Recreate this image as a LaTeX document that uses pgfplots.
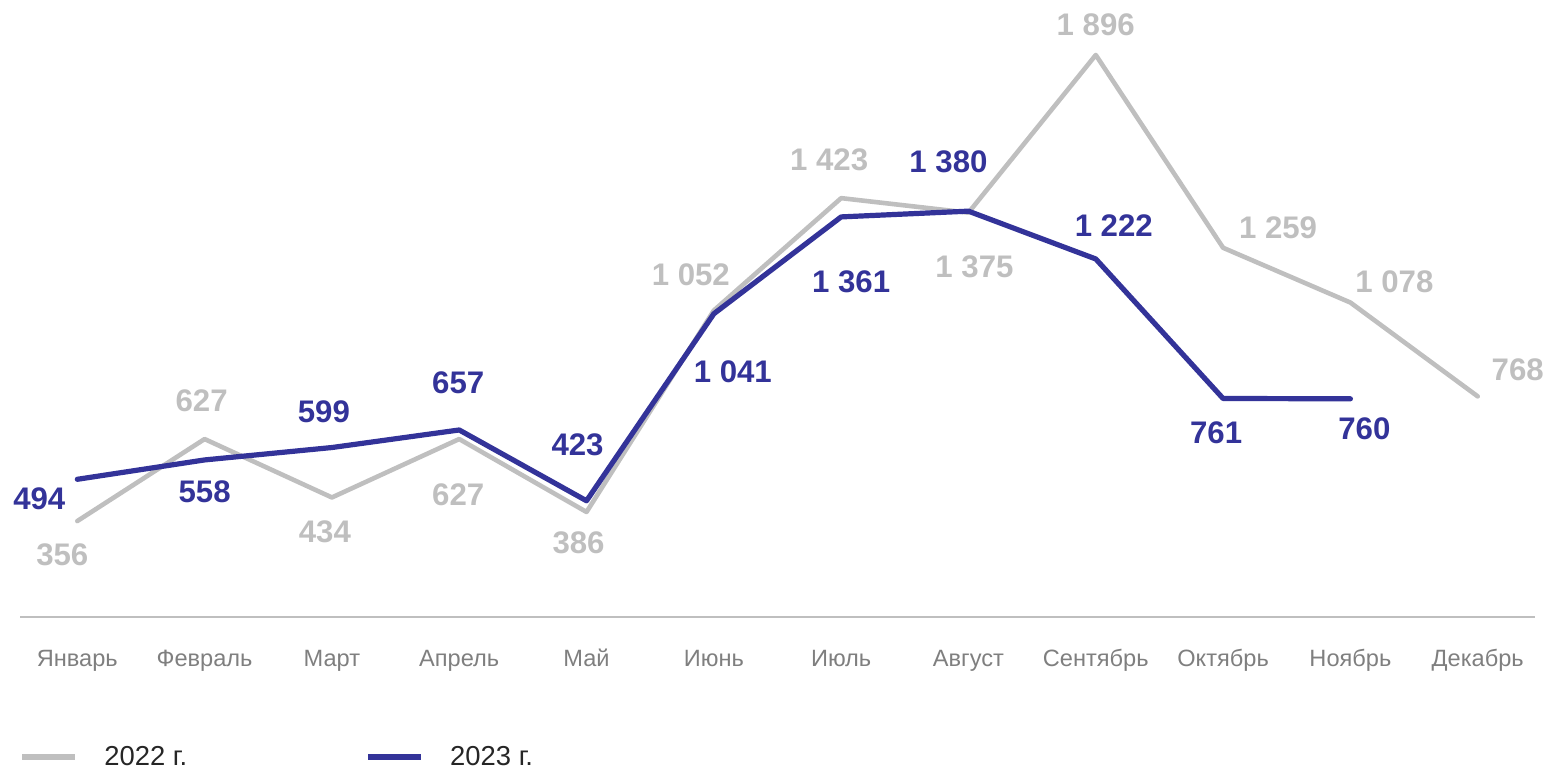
\documentclass[border=0pt]{standalone}
\usepackage{fontspec}
\setmainfont{Liberation Sans}
\usepackage{pgfplots}
\pgfplotsset{compat=1.18}
\usepackage{pgfplotstable}
\definecolor{cgray}{HTML}{BFBFBF}
\definecolor{cblue}{HTML}{333399}
\definecolor{ctick}{HTML}{7F7F7F}
\definecolor{clegend}{HTML}{262626}

\pgfplotstableread{
x y dx dy
0 356 -7.5 -17
1 627 -1.5 19
2 434 -3.5 -17
3 627 -0.5 -28
4 386 -4 -15.5
5 1052 -11.5 18
6 1423 -6 19
7 1375 3 -27
8 1896 0 15
9 1259 27.5 10
10 1078 22 10.5
11 768 20 13.5
}\tgray
\pgfplotstableread{
x y dx dy
0 494 -19 -9.5
1 558 0 -16
2 599 -4 18
3 657 -0.5 23.5
4 423 -4.5 28
5 1041 9.5 -29
6 1361 5 -32.5
7 1380 -10 24.5
8 1222 9 16.5
9 761 -3.5 -17
10 760 7 -15
}\tblue

\begin{document}
\begin{tikzpicture}
\useasboundingbox (0,0) rectangle (774pt,384pt);
\begin{axis}[
  at={(10pt,75.5pt)}, anchor=south west,
  scale only axis, width=757.5pt, height=296.75pt,
  xmin=-0.45, xmax=11.45, ymin=39, ymax=2000,
  clip=false,
  axis y line=none, axis x line=bottom,
  axis line style={-, draw=cgray, line width=1pt},
  xtick={0,...,11},
  xticklabels={Январь,Февраль,Март,Апрель,Май,Июнь,Июль,Август,Сентябрь,Октябрь,Ноябрь,Декабрь},
  major tick length=0pt,
  xticklabel style={anchor=base, yshift=-24.5pt, font=\fontsize{11.8}{14}\selectfont, text=ctick},
  legend columns=2,
  legend cell align=left,
  legend image code/.code={\draw[#1, line width=3pt, line cap=butt] (0pt,0pt) -- (26.5pt,0pt);},
  legend style={at={(axis description cs:0,-0.236)}, anchor=west, xshift=-3.5pt, draw=none, fill=none,
    font=\fontsize{13.7}{16}\selectfont, text=clegend,
    /tikz/every odd column/.append style={column sep=11pt},
    /tikz/every even column/.append style={column sep=87pt}},
  nodes near coords={\pgfmathprintnumber[fixed,precision=0,1000 sep={\ },assume math mode=true]{\pgfplotspointmeta}},
]
\addplot[cgray, line width=2.3pt, line join=round, line cap=round, mark=none,
  visualization depends on={\thisrow{dx}\as\dx},
  visualization depends on={\thisrow{dy}\as\dy},
  every node near coord/.append style={anchor=center, xshift=\dx, yshift=\dy, text=cgray, font=\bfseries\fontsize{15.6}{18}\selectfont}
] table[x=x,y=y]{\tgray};
\addlegendentry{2022 г.}
\addplot[cblue, line width=2.6pt, line join=round, line cap=round, mark=none,
  visualization depends on={\thisrow{dx}\as\dx},
  visualization depends on={\thisrow{dy}\as\dy},
  every node near coord/.append style={anchor=center, xshift=\dx, yshift=\dy, text=cblue, font=\bfseries\fontsize{15.6}{18}\selectfont}
] table[x=x,y=y]{\tblue};
\addlegendentry{2023 г.}
\end{axis}
\end{tikzpicture}
\end{document}
